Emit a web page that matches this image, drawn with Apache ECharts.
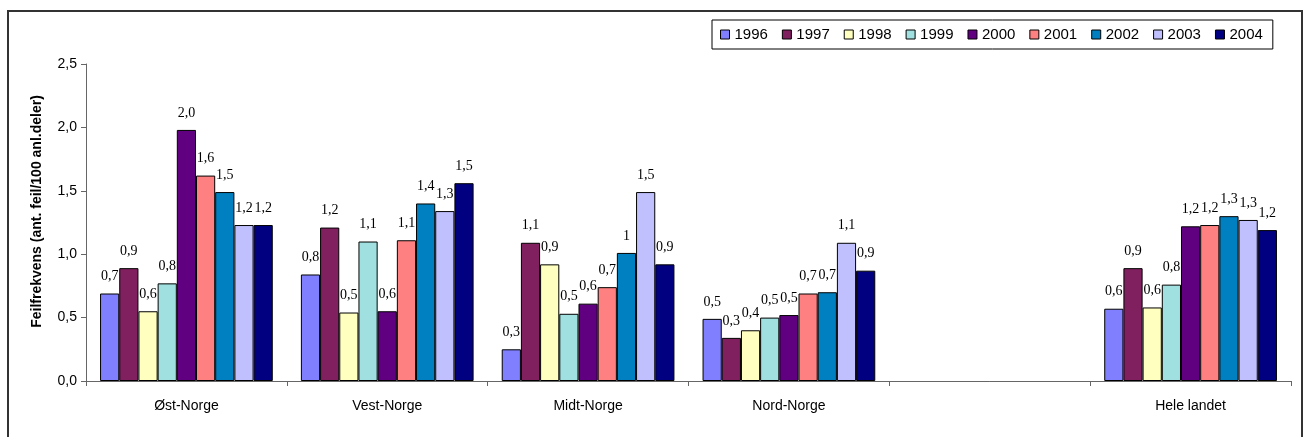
<!DOCTYPE html>
<html>
<head>
<meta charset="utf-8">
<script src="https://cdn.jsdelivr.net/npm/echarts@6/dist/echarts.min.js"></script>
<style>
  html, body {margin: 0; padding: 0; background: #fff;}
  #chart {width: 1309px; height: 437px;}
</style>
</head>
<body>
<div id="chart"></div>
<script>
const categories = ['Øst-Norge', 'Vest-Norge', 'Midt-Norge', 'Nord-Norge', '', 'Hele landet'];
const years = ['1996', '1997', '1998', '1999', '2000', '2001', '2002', '2003', '2004'];
const colors = ['#8080ff', '#80205f', '#ffffc0', '#a0e0e0', '#600080', '#ff8080', '#0080c0', '#c0c0ff', '#000080'];

// values per year, one per region (index 4 is the empty gap)
const v1996 = [0.69, 0.84, 0.25, 0.49, null, 0.57];
const v1997 = [0.89, 1.21, 1.09, 0.34, null, 0.89];
const v1998 = [0.55, 0.54, 0.92, 0.40, null, 0.58];
const v1999 = [0.77, 1.10, 0.53, 0.50, null, 0.76];
const v2000 = [1.98, 0.55, 0.61, 0.52, null, 1.22];
const v2001 = [1.62, 1.11, 0.74, 0.69, null, 1.23];
const v2002 = [1.49, 1.40, 1.01, 0.70, null, 1.30];
const v2003 = [1.23, 1.34, 1.49, 1.09, null, 1.27];
const v2004 = [1.23, 1.56, 0.92, 0.87, null, 1.19];

// printed data labels
const l1996 = ['0,7', '0,8', '0,3', '0,5', '', '0,6'];
const l1997 = ['0,9', '1,2', '1,1', '0,3', '', '0,9'];
const l1998 = ['0,6', '0,5', '0,9', '0,4', '', '0,6'];
const l1999 = ['0,8', '1,1', '0,5', '0,5', '', '0,8'];
const l2000 = ['2,0', '0,6', '0,6', '0,5', '', '1,2'];
const l2001 = ['1,6', '1,1', '0,7', '0,7', '', '1,2'];
const l2002 = ['1,5', '1,4', '1', '0,7', '', '1,3'];
const l2003 = ['1,2', '1,3', '1,5', '1,1', '', '1,3'];
const l2004 = ['1,2', '1,5', '0,9', '0,9', '', '1,2'];

const yTicks = ['0,0', '0,5', '1,0', '1,5', '2,0', '2,5'];

const values = [v1996, v1997, v1998, v1999, v2000, v2001, v2002, v2003, v2004];
const labels = [l1996, l1997, l1998, l1999, l2000, l2001, l2002, l2003, l2004];

const series = years.map((y, i) => ({
  name: y,
  type: 'bar',
  barGap: '0%',
  barCategoryGap: '14%',
  data: values[i],
  itemStyle: {color: colors[i], borderColor: '#000', borderWidth: 1},
  label: {
    show: true,
    position: 'top',
    distance: 10,
    fontFamily: 'Liberation Serif',
    fontSize: 14,
    color: '#000',
    formatter: p => labels[i][p.dataIndex]
  }
}));

const myChart = echarts.init(document.getElementById('chart'));
const option = {
  animation: false,
  color: colors,
  textStyle: {fontFamily: 'Liberation Sans'},
  graphic: [{
    type: 'rect',
    shape: {x: 8, y: 11, width: 1294, height: 440},
    style: {fill: 'none', stroke: '#333', lineWidth: 2},
    silent: true
  }],
  legend: {
    left: 712,
    top: 20,
    width: 570,
    itemWidth: 9,
    itemHeight: 9,
    itemGap: 14,
    padding: [7, 10, 7, 8],
    borderColor: '#000',
    borderWidth: 1,
    icon: 'rect',
    itemStyle: {borderColor: '#000', borderWidth: 1},
    textStyle: {fontFamily: 'Liberation Sans', fontSize: 15, color: '#000'},
    data: years
  },
  grid: {left: 86, right: 18, top: 64, bottom: 56, containLabel: false},
  xAxis: {
    type: 'category',
    data: categories,
    axisLine: {lineStyle: {color: '#666', width: 1}},
    axisTick: {show: true, length: 5, lineStyle: {color: '#666'}},
    axisLabel: {fontFamily: 'Liberation Sans', fontSize: 14, color: '#000', margin: 18}
  },
  yAxis: {
    type: 'value',
    min: 0,
    max: 2.5,
    interval: 0.5,
    name: 'Feilfrekvens (ant. feil/100 anl.deler)',
    nameLocation: 'middle',
    nameGap: 42,
    nameTextStyle: {fontFamily: 'Liberation Sans', fontSize: 14, fontWeight: 'bold', color: '#000', padding: [0, 0, 0, 22]},
    splitLine: {show: false},
    axisLine: {show: true, lineStyle: {color: '#666', width: 1}},
    axisTick: {show: true, length: 5, lineStyle: {color: '#666'}},
    axisLabel: {
      fontFamily: 'Liberation Sans', fontSize: 14, color: '#000', margin: 9,
      formatter: (v) => yTicks[Math.round(v / 0.5)]
    }
  },
  series: series
};
myChart.setOption(option);
</script>
</body>
</html>
